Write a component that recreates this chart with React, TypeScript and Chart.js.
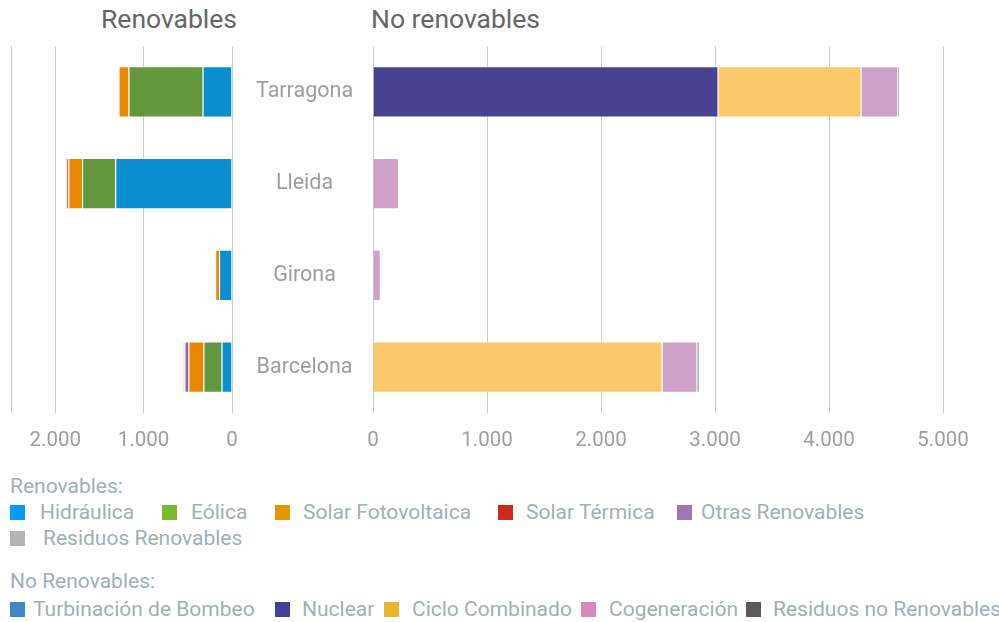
import React, { useEffect, useRef } from 'react';
import { Chart, registerables } from 'chart.js';
Chart.register(...registerables);

// ---- data ----
const categories = ['Tarragona', 'Lleida', 'Girona', 'Barcelona'];

const renovableNames = ['Hidráulica', 'Eólica', 'Solar Fotovoltaica', 'Solar Térmica', 'Otras Renovables', 'Residuos Renovables'];
const hidraulica = [332, 1320, 146, 117];
const eolica = [838, 375, 0, 205];
const solarFotovoltaica = [113, 155, 44, 170];
const solarTermica = [0, 24, 0, 0];
const otrasRenovables = [0, 8, 0, 45];
const residuosRenovables = [0, 14, 5, 22];

const noRenovableNames = ['Turbinación de Bombeo', 'Nuclear', 'Ciclo Combinado', 'Cogeneración', 'Residuos no Renovables'];
const turbinacionBombeo = [0, 0, 0, 0];
const nuclear = [3030, 0, 0, 0];
const cicloCombinado = [1255, 0, 0, 2540];
const cogeneracion = [322, 228, 68, 305];
const residuosNoRenovables = [14, 0, 0, 20];

const leftTicks = [0, 1000, 2000];
const rightTicks = [0, 1000, 2000, 3000, 4000, 5000];

// ---- styles ----
const renovableBarColors = ['#0a8ecf', '#62973e', '#e78800', '#d7262b', '#9565a8', '#c9c9d6'];
const renovableLegendColors = ['#0099ff', '#7ab929', '#ea9400', '#cc2a20', '#a077b4', '#b3b3b3'];
const noRenovableBarColors = ['#3f88c8', '#474390', '#fcc96a', '#cfa1c8', '#8c8c8c'];
const noRenovableLegendColors = ['#3f88c8', '#473f96', '#e8b52e', '#d78ab8', '#5a5a5a'];

const renovableLegendPos = [
  { row: 0, sq: 10, tx: 40 },
  { row: 0, sq: 162, tx: 191 },
  { row: 0, sq: 275, tx: 303 },
  { row: 0, sq: 498, tx: 526 },
  { row: 0, sq: 677, tx: 701 },
  { row: 1, sq: 10, tx: 43 },
];
const noRenovableLegendPos = [
  { sq: 10, tx: 33 },
  { sq: 275, tx: 302 },
  { sq: 384, tx: 412 },
  { sq: 581, tx: 609 },
  { sq: 746, tx: 773 },
];

const fmt = (v: number) => String(v).replace(/\B(?=(\d{3})+(?!\d))/g, '.');
const TICK_COLOR = '#9e9e9e';
const GRID_COLOR = '#cccccc';
const LEGEND_TEXT = '#a2afb5';
const FONT = 'Roboto';

function makeDatasets(names: string[], series: number[][], colors: string[]) {
  return names.map((n, i) => ({
    label: n,
    data: series[i],
    backgroundColor: colors[i],
    borderColor: 'rgba(255,255,255,0.45)',
    borderWidth: 1,
    barPercentage: 0.556,
    categoryPercentage: 1,
  }));
}

export default function App() {
  const leftRef = useRef<HTMLCanvasElement>(null);
  const rightRef = useRef<HTMLCanvasElement>(null);

  useEffect(() => {
    const left = new Chart(leftRef.current!, {
      type: 'bar',
      data: {
        labels: categories,
        datasets: makeDatasets(
          renovableNames,
          [hidraulica, eolica, solarFotovoltaica, solarTermica, otrasRenovables, residuosRenovables],
          renovableBarColors
        ),
      },
      options: {
        indexAxis: 'y',
        animation: false,
        responsive: false,
        maintainAspectRatio: false,
        layout: { padding: { left: 11, top: 46, right: 0, bottom: 0 } },
        plugins: { legend: { display: false }, tooltip: { enabled: false } },
        scales: {
          x: {
            stacked: true,
            reverse: true,
            min: 0,
            max: 2500,
            afterBuildTicks: (s: any) => {
              s.ticks = [...leftTicks.map((v) => ({ value: v })), { value: 2500 }];
            },
            ticks: {
              callback: (v: any) => (leftTicks.includes(Number(v)) ? fmt(Number(v)) : ''),
              color: TICK_COLOR,
              font: { family: FONT, size: 20.5 },
              padding: 16,
              maxRotation: 0,
              autoSkip: false,
            },
            grid: { color: GRID_COLOR, drawTicks: false },
            border: { display: false },
            afterFit: (s: any) => {
              s.height = 47;
            },
          },
          y: {
            stacked: true,
            position: 'right',
            grid: { display: false, drawTicks: false },
            border: { display: false },
            ticks: { crossAlign: 'center', padding: 24, color: TICK_COLOR, font: { family: FONT, size: 21.5 } },
            afterFit: (s: any) => {
              s.width = 146;
            },
          },
        },
      } as any,
    });

    const right = new Chart(rightRef.current!, {
      type: 'bar',
      data: {
        labels: categories,
        datasets: makeDatasets(
          noRenovableNames,
          [turbinacionBombeo, nuclear, cicloCombinado, cogeneracion, residuosNoRenovables],
          noRenovableBarColors
        ),
      },
      options: {
        indexAxis: 'y',
        animation: false,
        responsive: false,
        maintainAspectRatio: false,
        layout: { padding: { left: 30, top: 46, right: 56, bottom: 0 } },
        plugins: { legend: { display: false }, tooltip: { enabled: false } },
        scales: {
          x: {
            stacked: true,
            min: 0,
            max: 5000,
            afterBuildTicks: (s: any) => {
              s.ticks = rightTicks.map((v) => ({ value: v }));
            },
            ticks: {
              callback: (v: any) => fmt(Number(v)),
              color: TICK_COLOR,
              font: { family: FONT, size: 20.5 },
              padding: 16,
              maxRotation: 0,
              autoSkip: false,
            },
            grid: { color: GRID_COLOR, drawTicks: false },
            border: { display: false },
            afterFit: (s: any) => {
              s.height = 47;
            },
          },
          y: { stacked: true, display: false },
        },
      } as any,
    });

    return () => {
      left.destroy();
      right.destroy();
    };
  }, []);

  const sq = (color: string, x: number, top: number) => (
    <div style={{ position: 'absolute', left: x, top, width: 15, height: 15, background: color }} />
  );
  const txt = (t: string, x: number, centerY: number) => (
    <div
      style={{
        position: 'absolute',
        left: x,
        top: centerY - 10,
        fontSize: 21,
        lineHeight: '20px',
        color: LEGEND_TEXT,
        whiteSpace: 'nowrap',
      }}
    >
      {t}
    </div>
  );

  return (
    <div
      style={{
        position: 'absolute',
        left: 0,
        top: 0,
        width: 999,
        height: 622,
        fontFamily: FONT,
        background: '#fff',
        overflow: 'hidden',
      }}
    >
      <div style={{ position: 'absolute', left: 101, top: 6, fontSize: 26.5, lineHeight: '26px', color: '#666' }}>
        Renovables
      </div>
      <div style={{ position: 'absolute', left: 371, top: 6, fontSize: 26.5, lineHeight: '26px', color: '#666' }}>
        No renovables
      </div>
      <canvas ref={leftRef} width={378} height={460} style={{ position: 'absolute', left: 0, top: 0 }} />
      <canvas ref={rightRef} width={656} height={460} style={{ position: 'absolute', left: 343, top: 0 }} />

      {txt('Renovables:', 10, 486)}
      {renovableNames.map((n, i) => {
        const p = renovableLegendPos[i];
        const cy = p.row === 0 ? 512 : 538;
        return (
          <React.Fragment key={n}>
            {sq(renovableLegendColors[i], p.sq, cy - 7)}
            {txt(n, p.tx, cy)}
          </React.Fragment>
        );
      })}
      {txt('No Renovables:', 10, 581)}
      {noRenovableNames.map((n, i) => {
        const p = noRenovableLegendPos[i];
        return (
          <React.Fragment key={n}>
            {sq(noRenovableLegendColors[i], p.sq, 602)}
            {txt(n, p.tx, 609)}
          </React.Fragment>
        );
      })}
    </div>
  );
}
